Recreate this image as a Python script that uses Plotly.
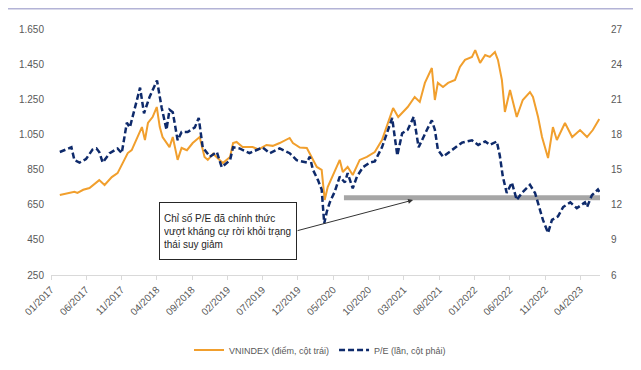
import plotly.graph_objects as go

# ---------------- data ----------------
vn_dates = ["2017-02-08", "2017-03-05", "2017-04-12", "2017-04-25", "2017-05-20", "2017-06-16",
            "2017-07-10", "2017-07-28", "2017-08-20", "2017-09-20", "2017-10-15", "2017-11-06",
            "2017-11-28", "2017-12-15", "2018-01-10", "2018-01-28", "2018-02-10", "2018-02-23",
            "2018-03-15", "2018-04-02", "2018-04-15", "2018-04-27", "2018-05-27", "2018-06-10",
            "2018-07-01", "2018-07-18", "2018-08-10", "2018-09-04", "2018-10-04", "2018-10-25",
            "2018-11-08", "2018-12-01", "2018-12-29", "2019-01-12", "2019-02-12", "2019-02-25",
            "2019-03-12", "2019-04-07", "2019-05-20", "2019-06-15", "2019-07-19", "2019-08-15",
            "2019-09-14", "2019-10-27", "2019-11-10", "2019-12-10", "2020-01-09", "2020-01-30",
            "2020-02-21", "2020-03-13", "2020-03-26", "2020-04-08", "2020-04-30", "2020-05-30",
            "2020-06-12", "2020-07-03", "2020-07-25", "2020-08-24", "2020-09-24", "2020-10-07",
            "2020-10-28", "2020-11-28", "2020-12-23", "2021-01-15", "2021-02-06", "2021-02-23",
            "2021-03-19", "2021-04-18", "2021-05-10", "2021-06-01", "2021-07-01", "2021-07-14",
            "2021-07-27", "2021-08-18", "2021-09-09", "2021-10-09", "2021-10-30", "2021-11-21",
            "2021-12-21", "2022-01-04", "2022-01-25", "2022-02-16", "2022-03-08", "2022-03-30",
            "2022-04-12", "2022-04-29", "2022-05-12", "2022-06-03", "2022-07-02", "2022-07-28",
            "2022-08-28", "2022-09-10", "2022-10-02", "2022-10-19", "2022-11-14", "2022-12-05",
            "2022-12-22", "2023-01-26", "2023-02-26", "2023-04-01", "2023-05-01", "2023-05-26",
            "2023-06-23"]
vn_values = [705, 712, 724, 717, 735, 745,
             770, 790, 762, 807, 830, 887,
             944, 961, 1035, 1092, 1018, 1115,
             1149, 1206, 1092, 1035, 978, 1035,
             905, 973, 960, 1001, 1035, 922,
             905, 940, 905, 887, 922, 1001,
             1007, 978, 978, 965, 990, 985,
             1001, 1030, 1001, 975, 973, 922,
             865, 848, 677, 751, 819, 905,
             836, 865, 819, 905, 922, 933,
             950, 1018, 1115, 1200, 1149, 1172,
             1206, 1263, 1235, 1343, 1428, 1246,
             1343, 1320, 1343, 1360, 1434, 1474,
             1491, 1530, 1457, 1502, 1491, 1519,
             1474, 1360, 1178, 1303, 1149, 1246,
             1291, 1263, 1149, 1035, 916, 1092,
             1018, 1115, 1035, 1075, 1035, 1075,
             1138]

pe_dates = ["2017-02-08", "2017-03-20", "2017-03-30", "2017-04-12", "2017-05-04", "2017-06-01",
            "2017-06-29", "2017-07-16", "2017-07-28", "2017-08-12", "2017-09-11", "2017-10-15",
            "2017-11-02", "2017-11-24", "2017-12-07", "2018-01-06", "2018-01-20", "2018-02-06",
            "2018-02-23", "2018-03-02", "2018-04-03", "2018-04-23", "2018-05-14", "2018-05-27",
            "2018-06-10", "2018-07-01", "2018-07-18", "2018-08-13", "2018-09-13", "2018-09-30",
            "2018-10-17", "2018-11-17", "2018-12-17", "2019-01-07", "2019-02-12", "2019-02-25",
            "2019-03-25", "2019-05-07", "2019-07-02", "2019-08-02", "2019-09-14", "2019-10-27",
            "2019-11-26", "2019-12-22", "2020-01-09", "2020-01-22", "2020-02-04", "2020-02-26",
            "2020-03-13", "2020-03-24", "2020-04-04", "2020-04-17", "2020-05-08", "2020-05-30",
            "2020-06-21", "2020-07-03", "2020-07-25", "2020-08-12", "2020-09-07", "2020-10-07",
            "2020-10-28", "2020-11-28", "2021-01-11", "2021-01-24", "2021-02-02", "2021-02-23",
            "2021-03-19", "2021-04-14", "2021-05-05", "2021-06-10", "2021-07-01", "2021-07-14",
            "2021-07-27", "2021-08-18", "2021-09-26", "2021-11-08", "2021-12-21", "2022-01-17",
            "2022-02-16", "2022-03-08", "2022-04-07", "2022-04-20", "2022-05-03", "2022-05-20",
            "2022-06-11", "2022-07-02", "2022-07-24", "2022-08-28", "2022-09-19", "2022-10-02",
            "2022-10-23", "2022-11-14", "2022-12-01", "2022-12-27", "2023-01-18", "2023-02-18",
            "2023-03-18", "2023-04-22", "2023-05-01", "2023-05-22", "2023-06-17", "2023-06-23"]
pe_values = [16.5, 16.8, 16.9, 15.8, 15.6, 15.9,
             16.7, 16.8, 16.5, 15.6, 16.4, 16.8,
             16.4, 19.0, 18.6, 20.9, 22.0, 19.8,
             20.9, 21.2, 22.6, 20.3, 18.4, 20.1,
             19.9, 17.5, 18.2, 18.2, 18.6, 19.4,
             16.9, 16.1, 16.5, 15.2, 15.8, 16.9,
             16.8, 16.4, 16.9, 16.4, 16.8, 16.4,
             15.8, 15.7, 15.6, 16.1, 15.0, 14.1,
             13.3, 10.4, 11.4, 12.2, 13.1, 14.4,
             13.9, 14.7, 13.4, 14.4, 15.2, 15.6,
             15.7, 16.9, 19.4, 17.5, 16.2, 18.1,
             18.4, 19.5, 16.9, 18.4, 19.2, 18.4,
             16.7, 16.1, 16.7, 17.3, 17.5, 17.1,
             17.4, 17.1, 17.4, 16.2, 14.4, 13.0,
             13.9, 12.4, 13.0, 13.7, 13.0, 12.2,
             10.7, 9.6, 10.7, 11.0, 11.8, 12.2,
             11.7, 12.2, 11.8, 12.8, 13.3, 13.1]

resistance_dates = ["2020-06-17", "2023-06-26"]
resistance_level = [12.6, 12.6]

arrow_target_date = "2021-04-11"
arrow_target_pe = 12.4

left_ticks = [250, 450, 650, 850, 1050, 1250, 1450, 1650]
right_ticks = [6, 9, 12, 15, 18, 21, 24, 27]

note_text = "Chỉ số P/E đã chính thức<br>vượt kháng cự rời khỏi trạng<br>thái suy giảm"

# ---------------- figure ----------------
FONT = "Liberation Sans, Arial, sans-serif"
ORANGE = "#F19F2D"
NAVY = "#0E2A6B"
GREY_TXT = "#595959"

fig = go.Figure()

fig.add_trace(go.Scatter(x=resistance_dates, y=resistance_level, yaxis="y2", mode="lines",
                         line=dict(color="#A6A6A6", width=5), showlegend=False, hoverinfo="skip"))
fig.add_trace(go.Scatter(x=vn_dates, y=vn_values, mode="lines", name="VNINDEX (điểm, cột trái)",
                         line=dict(color=ORANGE, width=2)))
fig.add_trace(go.Scatter(x=pe_dates, y=pe_values, yaxis="y2", mode="lines",
                         name="P/E (lần, cột phải)",
                         line=dict(color=NAVY, width=2.5, dash="6px,3px")))

# the page body adds an 8px offset, so the figure is 8px smaller than the window
OFF = 8
W, H = 641 - OFF, 370 - OFF
L, R, T, B = 51 - OFF, 41, 29 - OFF, 95

fig.update_layout(
    width=W, height=H,
    margin=dict(l=L, r=R, t=T, b=B, pad=0, autoexpand=False),
    paper_bgcolor="white", plot_bgcolor="white",
    separators=",.",
    font=dict(family=FONT, size=10, color=GREY_TXT),
    xaxis=dict(type="date", range=["2017-01-01", "2023-06-26"], automargin=False,
               tick0="2017-01-01", dtick="M5", tickformat="%m/%Y", tickangle=-45,
               showgrid=False, zeroline=False,
               showline=True, linecolor="#D9D9D9", linewidth=1,
               ticks="outside", ticklen=4, tickcolor="#D9D9D9",
               tickfont=dict(size=10, color=GREY_TXT, family=FONT)),
    yaxis=dict(range=[250, 1650], tickvals=left_ticks, tickformat=",d", automargin=False,
               showgrid=False, zeroline=False, showline=False, ticks="",
               ticklabelstandoff=6,
               tickfont=dict(size=10, color=GREY_TXT, family=FONT)),
    yaxis2=dict(range=[6, 27], tickvals=right_ticks, overlaying="y", side="right",
                automargin=False,
                showgrid=False, zeroline=False, showline=False, ticks="",
                ticklabelstandoff=10,
                tickfont=dict(size=10, color=GREY_TXT, family=FONT)),
    legend=dict(orientation="h", x=0.49, xanchor="center",
                yref="container", y=(H - (350 - OFF)) / H, yanchor="middle",
                font=dict(size=9, color=GREY_TXT, family=FONT), bgcolor="rgba(0,0,0,0)"),
    showlegend=True,
)

pw = W - L - R
ph = H - T - B

# annotation text box
fig.add_annotation(xref="paper", yref="paper",
                   x=(227.5 - 51) / pw, y=(275 - 231) / ph,
                   xanchor="center", yanchor="middle",
                   text=note_text, showarrow=False, align="left", valign="middle",
                   width=128, height=48, borderpad=4,
                   bordercolor="#262626", borderwidth=1, bgcolor="white",
                   font=dict(family=FONT, size=10, color="#262626"))
# arrow from box to resistance line
fig.add_annotation(xref="x", yref="y2", x=arrow_target_date, y=arrow_target_pe,
                   text="", showarrow=True, ax=-117, ay=31,
                   arrowhead=2, arrowsize=1, arrowwidth=1, arrowcolor="#333333")

# thin top border line
fig.add_shape(type="line", xref="paper", yref="paper",
              x0=-L / pw, x1=(W - L) / pw, y0=1 + (T - 0.75) / ph, y1=1 + (T - 0.75) / ph,
              line=dict(color="#B3B3D6", width=1.5))

fig.write_html("out.html")
